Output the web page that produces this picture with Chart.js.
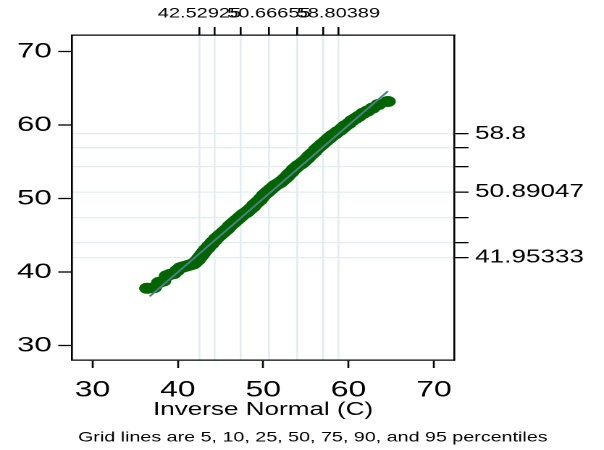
<!DOCTYPE html>
<html><head><meta charset="utf-8">
<script src="https://cdn.jsdelivr.net/npm/chart.js@4"></script>
<style>
html,body{margin:0;padding:0;background:#fff;overflow:hidden}
#wrap{width:604px;height:450px;overflow:hidden;position:relative}
#c{transform:scaleX(1.4484);transform-origin:0 0;display:block}
</style></head><body>
<div id="wrap"><canvas id="c" width="417" height="450" style="width:417px;height:450px"></canvas></div>
<script>
// Inverse normal (theoretical) quantiles
const qnormX = [36.4, 37.2, 37.8, 38.3, 38.7, 39.1, 39.5, 39.9, 40.3, 40.6, 40.9, 41.2, 41.5, 41.8, 42.0, 42.3, 42.5, 42.7, 42.9, 43.1, 43.3, 43.5, 43.7, 43.9, 44.1, 44.3, 44.5, 44.8, 45.0, 45.3, 45.6, 45.8, 46.1, 46.4, 46.6, 46.9, 47.2, 47.4, 47.7, 48.0, 48.2, 48.5, 48.8, 49.0, 49.3, 49.6, 49.8, 50.1, 50.4, 50.6, 50.9, 51.2, 51.4, 51.7, 52.0, 52.2, 52.5, 52.8, 53.0, 53.3, 53.6, 53.8, 54.1, 54.4, 54.6, 54.9, 55.2, 55.4, 55.7, 56.0, 56.2, 56.5, 56.8, 57.0, 57.3, 57.6, 57.8, 58.1, 58.4, 58.7, 59.0, 59.3, 59.6, 60.0, 60.4, 60.8, 61.2, 61.7, 62.2, 62.8, 63.5, 64.6];
// Observed (sorted) values of C
const observedC = [37.8, 37.9, 38.6, 38.8, 39.5, 39.7, 39.8, 40.2, 40.6, 40.7, 40.8, 40.9, 41.0, 41.1, 41.3, 41.6, 41.9, 42.2, 42.5, 42.8, 43.1, 43.3, 43.6, 43.8, 44.1, 44.3, 44.6, 44.9, 45.1, 45.4, 45.7, 45.9, 46.3, 46.6, 46.8, 47.1, 47.4, 47.6, 47.9, 48.1, 48.3, 48.6, 48.9, 49.2, 49.5, 49.8, 50.1, 50.5, 50.8, 51.0, 51.3, 51.6, 51.8, 52.0, 52.2, 52.4, 52.7, 53.0, 53.3, 53.6, 54.0, 54.2, 54.5, 54.7, 54.9, 55.2, 55.5, 55.8, 56.1, 56.4, 56.7, 57.0, 57.3, 57.5, 57.8, 58.1, 58.3, 58.6, 58.8, 59.1, 59.3, 59.6, 59.9, 60.2, 60.6, 60.9, 61.2, 61.6, 61.9, 62.3, 62.8, 63.2];
// Reference line y = x end points
const refLineX = [36.7, 64.6];
// Axis ticks
const xTicks = [30, 40, 50, 60, 70];
const yTicks = [30, 40, 50, 60, 70];
// Normal quantiles at 5,10,25,50,75,90,95 percentiles (top axis)
const topQuantiles = [42.52925, 44.327, 47.330, 50.66655, 54.003, 57.006, 58.80389];
const topLabels = ['42.52925', '', '', '50.66655', '', '', '58.80389'];
// Data percentiles 5,10,25,50,75,90,95 (right axis)
const rightQuantiles = [41.95333, 44.0, 47.4, 50.89047, 54.35, 56.9, 58.8];
const rightLabels = ['41.95333', '', '', '50.89047', '', '', '58.8'];
const xTitle = 'Inverse Normal (C)';
const noteText = 'Grid lines are 5, 10, 25, 50, 75, 90, and 95 percentiles';

const S = 1.4484;
const FONT = '"Liberation Sans", Arial, sans-serif';
const GRIDC = '#e3ecef';

const pts = qnormX.map((x, i) => ({x: x, y: observedC[i]}));
const ref = refLineX.map(v => ({x: v, y: v}));

const notePlugin = {
  id: 'note',
  afterDraw(chart) {
    const ctx = chart.ctx;
    ctx.save();
    ctx.font = '13.6px ' + FONT;
    ctx.fillStyle = '#000';
    ctx.textAlign = 'left';
    ctx.textBaseline = 'alphabetic';
    ctx.fillText(noteText, 78 / S, 441.5);
    ctx.restore();
  }
};

const setTicks = arr => s => { s.ticks = arr.map(v => ({value: v})); };

new Chart(document.getElementById('c'), {
  type: 'scatter',
  data: {
    datasets: [
      {
        type: 'line', data: ref, borderColor: '#4f7f86', borderWidth: 1.6,
        pointRadius: 0, fill: false, order: 0
      },
      {
        type: 'scatter', data: pts, backgroundColor: '#006400', borderWidth: 0,
        pointRadius: 5.5, pointHoverRadius: 5.5, order: 1
      }
    ]
  },
  options: {
    responsive: false, animation: false, devicePixelRatio: 2,
    layout: {padding: 0},
    plugins: {legend: {display: false}, tooltip: {enabled: false}},
    scales: {
      x: {
        type: 'linear', position: 'bottom', min: 27.6, max: 72.35,
        afterBuildTicks: setTicks(xTicks),
        afterFit: s => { s.height = 90; },
        ticks: {font: {family: FONT, size: 22}, color: '#000', padding: 9, maxRotation: 0, minRotation: 0, autoSkip: false},
        grid: {drawOnChartArea: false, tickLength: 8, tickColor: '#000', tickWidth: 1.3},
        border: {display: true, color: '#000', width: 1.3},
        title: {display: true, text: xTitle, font: {family: FONT, size: 18}, color: '#000', padding: {top: 29, bottom: 29}}
      },
      x2: {
        type: 'linear', position: 'top', min: 27.6, max: 72.35,
        afterBuildTicks: setTicks(topQuantiles),
        afterFit: s => { s.height = 35; },
        ticks: {font: {family: FONT, size: 13.8}, color: '#000', padding: 5, maxRotation: 0, minRotation: 0, autoSkip: false,
          callback: (v, i) => topLabels[i]},
        grid: {drawOnChartArea: true, color: GRIDC, lineWidth: 1.3, tickLength: 8, tickColor: '#000', tickWidth: 1.3},
        border: {display: true, color: '#000', width: 1.3}
      },
      y: {
        type: 'linear', position: 'left', min: 28.05, max: 72.25,
        afterBuildTicks: setTicks(yTicks),
        afterFit: s => { s.width = 72 / S; },
        ticks: {font: {family: FONT, size: 21.5}, color: '#000', padding: 4.5, autoSkip: false},
        grid: {drawOnChartArea: false, tickLength: 9.5, tickColor: '#000', tickWidth: 1.3},
        border: {display: true, color: '#000', width: 1.3}
      },
      y2: {
        type: 'linear', position: 'right', min: 28.05, max: 72.25,
        afterBuildTicks: setTicks(rightQuantiles),
        afterFit: s => { s.width = 417 - 454 / S; },
        ticks: {font: {family: FONT, size: 18}, color: '#000', padding: 4.6, autoSkip: false,
          callback: (v, i) => rightLabels[i]},
        grid: {drawOnChartArea: true, color: GRIDC, lineWidth: 1.3, tickLength: 10, tickColor: '#000', tickWidth: 1.3},
        border: {display: true, color: '#000', width: 1.3}
      }
    }
  },
  plugins: [notePlugin]
});
</script>
</body></html>
